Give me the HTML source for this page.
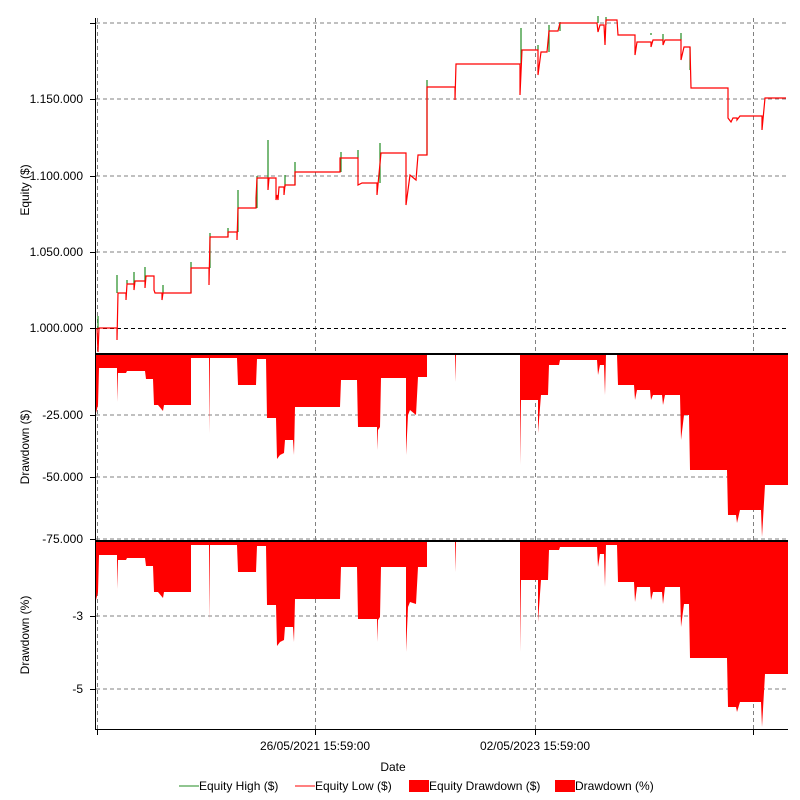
<!DOCTYPE html>
<html><head><meta charset="utf-8"><style>
html,body{margin:0;padding:0;background:#fff;}
svg{display:block;font-family:"Liberation Sans",sans-serif;font-size:12px;fill:#000;}
</style></head><body>
<svg width="800" height="800" viewBox="0 0 800 800" xmlns="http://www.w3.org/2000/svg">
<rect width="800" height="800" fill="#fff"/>
<g stroke="#808080" stroke-dasharray="4,3" stroke-width="1" fill="none">
<line x1="96" y1="23" x2="788" y2="23"/>
<line x1="96" y1="99" x2="788" y2="99"/>
<line x1="96" y1="176" x2="788" y2="176"/>
<line x1="96" y1="252" x2="788" y2="252"/>
<line x1="96" y1="415" x2="788" y2="415"/>
<line x1="96" y1="477" x2="788" y2="477"/>
<line x1="96" y1="539" x2="788" y2="539"/>
<line x1="96" y1="616" x2="788" y2="616"/>
<line x1="96" y1="689" x2="788" y2="689"/>
<line x1="97.5" y1="18" x2="97.5" y2="729"/>
<line x1="315.5" y1="18" x2="315.5" y2="729"/>
<line x1="535.5" y1="18" x2="535.5" y2="729"/>
<line x1="753.5" y1="18" x2="753.5" y2="729"/>
</g>
<line x1="96" y1="328.5" x2="788" y2="328.5" stroke="#000" stroke-dasharray="4,3"/>
<!-- green spikes -->
<g stroke="#228b22" stroke-width="1.2">
<line x1="98" y1="328" x2="98" y2="316"/>
<line x1="117" y1="293" x2="117" y2="275"/>
<line x1="127" y1="284" x2="127" y2="280"/>
<line x1="134" y1="284" x2="134" y2="272"/>
<line x1="145" y1="281" x2="145" y2="267"/>
<line x1="163" y1="293" x2="163" y2="285"/>
<line x1="191" y1="293" x2="191" y2="262"/>
<line x1="210" y1="268" x2="210" y2="233"/>
<line x1="228" y1="237" x2="228" y2="228"/>
<line x1="238" y1="232" x2="238" y2="190"/>
<line x1="257" y1="208" x2="257" y2="176"/>
<line x1="268" y1="178" x2="268" y2="140"/>
<line x1="285" y1="187" x2="285" y2="175"/>
<line x1="295" y1="185" x2="295" y2="162"/>
<line x1="341" y1="172" x2="341" y2="152"/>
<line x1="358" y1="158" x2="358" y2="150"/>
<line x1="380" y1="183" x2="380" y2="143"/>
<line x1="427" y1="155" x2="427" y2="80"/>
<line x1="521" y1="64" x2="521" y2="28"/>
<line x1="538" y1="50" x2="538" y2="45"/>
<line x1="549" y1="52" x2="549" y2="25"/>
<line x1="560" y1="31" x2="560" y2="22"/>
<line x1="598" y1="23" x2="598" y2="16"/>
<line x1="606" y1="25" x2="606" y2="17"/>
<line x1="651" y1="35" x2="651" y2="33"/>
<line x1="663" y1="42" x2="663" y2="34"/>
<line x1="681" y1="40" x2="681" y2="33"/>
<line x1="690" y1="47" x2="690" y2="70"/>
</g>
<polyline fill="none" stroke="#ff0000" stroke-width="1.2" points="97,328 98,352 99,328 117,328 117,340 118,293 126,293 126,300 127,284 134,284 134,290 135,281 145,281 145,288 146,276 154,276 154,290 155,293 162,293 162,300 163,293 191,293 191,268 209,268 209,285 210,237 228,237 228,232 237,232 237,240 238,208 256,208 256,198 257,178 268,178 268,190 269,178 276,178 276,200 277,195 278,200 279,187 284,187 284,195 285,185 295,185 295,172 340,172 340,158 358,158 358,185 362,183 377,183 377,195 381,153 406,153 406,205 410,175 416,180 418,155 427,155 427,87 455,87 455,100 456,64 520,64 520,95 522,50 538,50 538,75 541,52 547,52 549,31 558,31 560,23 597,23 598,32 600,25 604,25 605,45 606,20 617,20 618,35 635,35 635,55 637,42 651,42 651,47 653,40 663,40 663,45 665,40 681,40 681,60 684,47 690,47 691,88 728,88 728,118 731,122 733,118 737,118 737,120 740,116 762,116 762,130 765,98 786,98"/>
<g id="dd" fill="#ff0000">
<polygon transform="translate(0,355)" points="96,0 96,58 98,50 99,13 117,13 117,47 118,18 126,18 127,16 145,16 146,24 153,24 154,50 158,50 163,56 164,50 191,50 191,3 209,3 209,79 210,3 237,3 238,30 256,30 257,4 266,4 267,63 276,63 277,104 280,100 284,98 285,85 293,85 294,100 295,52 340,52 341,25 357,25 358,72 377,72 377,95 378,75 380,72 381,23 406,23 406,100 408,60 410,55 416,60 418,22 427,22 427,0 455,0 455,27 456,0 520,0 520,110 521,45 538,45 538,78 541,40 548,40 549,10 559,10 560,5 597,5 598,20 600,10 604,10 605,40 606,0 617,0 618,30 634,30 635,45 637,35 650,35 651,45 653,40 662,40 663,50 665,40 680,40 681,85 684,60 689,60 690,115 727,115 728,160 736,160 737,168 740,155 761,155 762,182 765,130 788,130 788,0"/>
<polygon transform="translate(0,542)" points="96,0 96,58 98,50 99,13 117,13 117,47 118,18 126,18 127,16 145,16 146,24 153,24 154,50 158,50 163,56 164,50 191,50 191,3 209,3 209,79 210,3 237,3 238,30 256,30 257,4 266,4 267,63 276,63 277,104 280,100 284,98 285,85 293,85 294,100 295,57 340,57 341,25 357,25 358,77 377,77 377,100 378,78 380,75 381,25 406,25 406,110 408,65 410,60 416,62 418,25 427,25 427,0 455,0 455,30 456,0 520,0 520,110 521,38 538,38 538,80 541,38 548,38 549,8 559,8 560,5 597,5 598,25 600,12 604,12 605,45 606,3 617,3 618,40 634,40 635,60 637,45 650,45 651,58 653,50 662,50 663,62 665,45 680,45 681,85 684,62 689,62 690,116 727,116 728,165 736,165 737,170 740,160 761,160 762,185 765,132 788,132 788,0"/>
</g>
<!-- axes -->
<g stroke="#000" stroke-width="1">
<line x1="95.5" y1="18" x2="95.5" y2="730"/>
<line x1="95" y1="729.5" x2="788" y2="729.5"/>
<line x1="95" y1="354" x2="788" y2="354" stroke-width="2"/>
<line x1="95" y1="541" x2="788" y2="541" stroke-width="2"/>
<line x1="90" y1="23.5" x2="95" y2="23.5"/>
<line x1="90" y1="99.5" x2="95" y2="99.5"/>
<line x1="90" y1="176.5" x2="95" y2="176.5"/>
<line x1="90" y1="252.5" x2="95" y2="252.5"/>
<line x1="90" y1="328.5" x2="95" y2="328.5"/>
<line x1="90" y1="415.5" x2="95" y2="415.5"/>
<line x1="90" y1="477.5" x2="95" y2="477.5"/>
<line x1="90" y1="539.5" x2="95" y2="539.5"/>
<line x1="90" y1="616.5" x2="95" y2="616.5"/>
<line x1="90" y1="689.5" x2="95" y2="689.5"/>
<line x1="97.5" y1="729" x2="97.5" y2="735"/>
<line x1="315.5" y1="729" x2="315.5" y2="735"/>
<line x1="535.5" y1="729" x2="535.5" y2="735"/>
<line x1="753.5" y1="729" x2="753.5" y2="735"/>
</g>
<g text-anchor="end" fill="#000">
<text x="83" y="103">1.150.000</text>
<text x="83" y="180">1.100.000</text>
<text x="83" y="256">1.050.000</text>
<text x="83" y="332">1.000.000</text>
<text x="83" y="419">-25.000</text>
<text x="83" y="481">-50.000</text>
<text x="83" y="543">-75.000</text>
<text x="83" y="620">-3</text>
<text x="83" y="693">-5</text>
</g>
<g text-anchor="middle">
<text x="315" y="750">26/05/2021 15:59:00</text>
<text x="535" y="750">02/05/2023 15:59:00</text>
<text x="393" y="771">Date</text>
<text transform="translate(29,190) rotate(-90)">Equity ($)</text>
<text transform="translate(29,447) rotate(-90)">Drawdown ($)</text>
<text transform="translate(29,635) rotate(-90)">Drawdown (%)</text>
</g>
<line x1="179" y1="786" x2="199" y2="786" stroke="#228b22"/>
<text x="199" y="790">Equity High ($)</text>
<line x1="295" y1="786" x2="315" y2="786" stroke="#ff0000"/>
<text x="315" y="790">Equity Low ($)</text>
<rect x="409" y="780" width="20" height="12" fill="#ff0000"/>
<text x="429" y="790">Equity Drawdown ($)</text>
<rect x="555" y="780" width="20" height="12" fill="#ff0000"/>
<text x="575" y="790">Drawdown (%)</text>
</svg>
</body></html>
